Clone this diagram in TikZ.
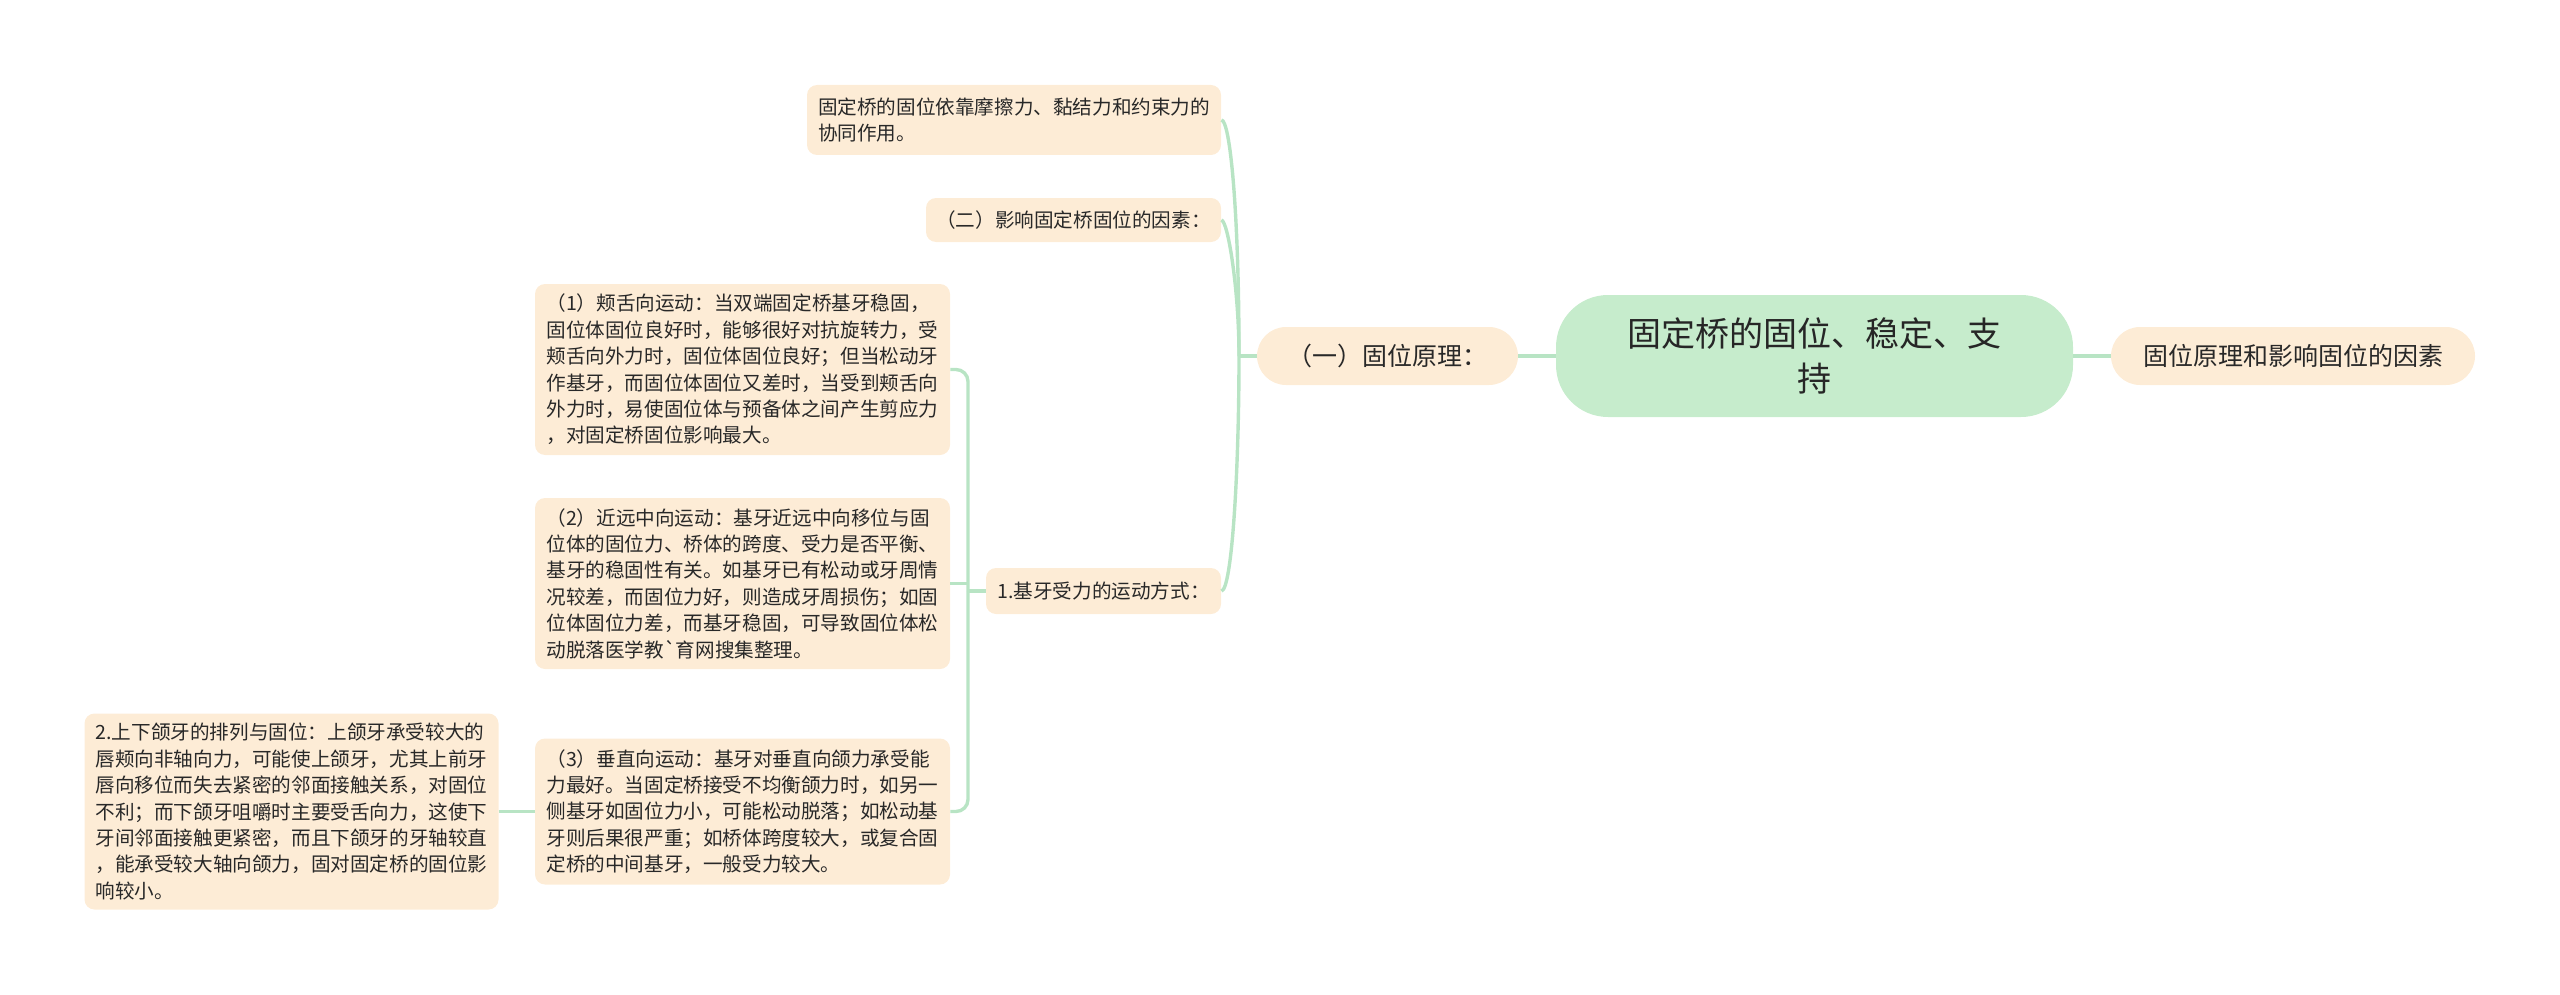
\documentclass[tikz,border=0pt]{standalone}
\usepackage{fontspec}
\setmainfont{Noto Sans CJK SC}
\definecolor{peach}{RGB}{253,236,214}
\definecolor{rootgreen}{RGB}{198,236,204}
\definecolor{linegreen}{RGB}{184,228,196}
\definecolor{txt}{RGB}{40,40,40}
\tikzset{
  box/.style={fill=peach, rounded corners=5pt, inner sep=0pt, align=left, text=txt,
    font=\fontsize{9.8}{13.2}\selectfont},
  pill/.style={fill=peach, rounded corners=14.5pt, inner sep=0pt, align=center, text=txt,
    font=\fontsize{12.5}{16}\selectfont, minimum height=29pt},
  rootbox/.style={fill=rootgreen, rounded corners=26pt, inner sep=0pt, align=center, text=black!85,
    font=\fontsize{17}{22.9}\selectfont, minimum width=258.5pt, minimum height=61pt},
  conn/.style={draw=linegreen, line width=1.7pt},
}
\begin{document}
\begin{tikzpicture}[x=0.5pt,y=-0.5pt]
\useasboundingbox (0,0) rectangle (2560,995);
% nodes
\node[rootbox] (root) at (1814.5,356) {固定桥的固位、稳定、支\\持};
\node[pill, minimum width=182pt] (right) at (2293,356) {固位原理和影响固位的因素};
\node[pill, minimum width=130.5pt] (yi) at (1387.5,356) {（一）固位原理：};
\node[box, minimum width=207pt, minimum height=35pt] (t1) at (1014,120)
  {固定桥的固位依靠摩擦力、黏结力和约束力的\\协同作用。};
\node[box, minimum width=147.5pt, minimum height=22pt] (t2) at (1073.5,220)
  {（二）影响固定桥固位的因素：};
\node[box, minimum width=117.5pt, minimum height=23pt] (s1) at (1103.5,591)
  {1.基牙受力的运动方式：};
\node[box, minimum width=207.5pt, minimum height=85.5pt] (m1) at (742.5,369.5)
  {（1）颊舌向运动：当双端固定桥基牙稳固，\\固位体固位良好时，能够很好对抗旋转力，受\\颊舌向外力时，固位体固位良好；但当松动牙\\作基牙，而固位体固位又差时，当受到颊舌向\\外力时，易使固位体与预备体之间产生剪应力\\，对固定桥固位影响最大。};
\node[box, minimum width=207.5pt, minimum height=85.5pt] (m2) at (742.5,583.5)
  {（2）近远中向运动：基牙近远中向移位与固\\位体的固位力、桥体的跨度、受力是否平衡、\\基牙的稳固性有关。如基牙已有松动或牙周情\\况较差，而固位力好，则造成牙周损伤；如固\\位体固位力差，而基牙稳固，可导致固位体松\\动脱落医学教\textasciigrave 育网搜集整理。};
\node[box, minimum width=207.5pt, minimum height=73pt] (m3) at (742.5,811.5)
  {（3）垂直向运动：基牙对垂直向颌力承受能\\力最好。当固定桥接受不均衡颌力时，如另一\\侧基牙如固位力小，可能松动脱落；如松动基\\牙则后果很严重；如桥体跨度较大，或复合固\\定桥的中间基牙，一般受力较大。};
\node[box, minimum width=207pt, minimum height=98pt] (n2) at (291.5,811.5)
  {2.上下颌牙的排列与固位：上颌牙承受较大的\\唇颊向非轴向力，可能使上颌牙，尤其上前牙\\唇向移位而失去紧密的邻面接触关系，对固位\\不利；而下颌牙咀嚼时主要受舌向力，这使下\\牙间邻面接触更紧密，而且下颌牙的牙轴较直\\，能承受较大轴向颌力，固对固定桥的固位影\\响较小。};
% junctions
\coordinate (j1) at (1239,356);
\coordinate (j2) at (968,591);
% connectors
\draw[conn] (yi.east) -- (yi.east -| root.west);
\draw[conn] (right.west) -- (right.west -| root.east);
\draw[conn] (yi.west) -- (j1);
\draw[conn] (j1) .. controls (1239,210) and (1230,120) .. (t1.east);
\draw[conn] (j1) .. controls (1239,290) and (1228,221) .. (t2.east);
\draw[conn] (j1) .. controls (1239,470) and (1232,590) .. (s1.east);
\draw[conn] (s1.west) -- (j2);
\draw[conn, rounded corners=6pt] (m1.east) -| (j2);
\draw[conn, rounded corners=6pt] (m3.east) -| (j2);
\draw[conn] (m2.east) -- (m2.east -| j2);
\draw[conn] (n2.east) -- (m3.west);
\end{tikzpicture}
\end{document}
